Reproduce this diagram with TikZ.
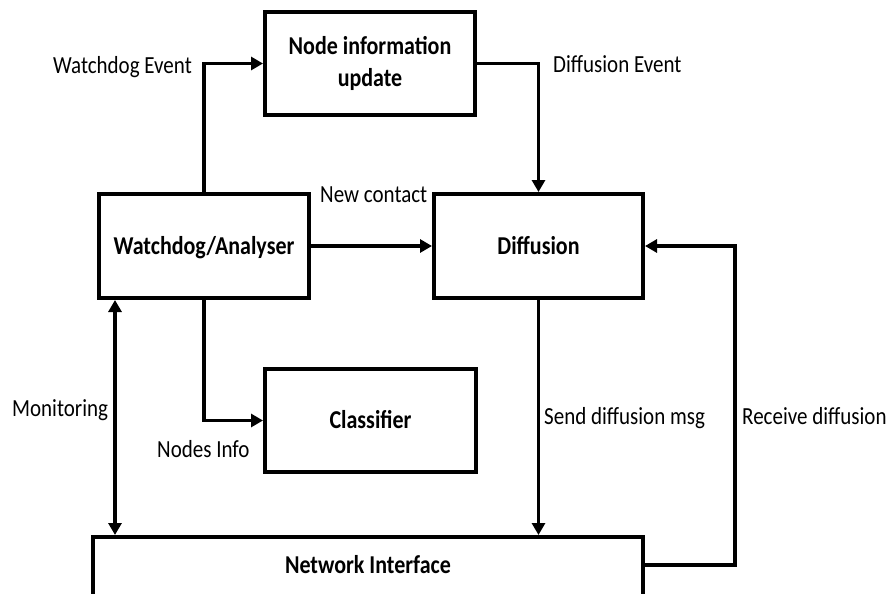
\documentclass[tikz,border=0pt]{standalone}
\usepackage{fontspec}
\usepackage{graphicx}
\setmainfont{Carlito}
\usetikzlibrary{arrows.meta,calc}
\newcommand{\tallt}[1]{\scalebox{1}[1.17]{#1}}
\tikzset{
  box/.style={draw, line width=4pt, rectangle, inner sep=0pt, font=\fontsize{22}{31.7}\selectfont\bfseries, align=center},
  oneline/.style={text height=16.6pt, text depth=0pt},
  arr/.style={line width=3.4pt, -{Triangle[length=12pt,width=13pt]}},
  darr/.style={line width=3.4pt, {Triangle[length=12pt,width=13pt]}-{Triangle[length=12pt,width=13pt]}},
  lbl/.style={inner sep=0pt, font=\fontsize{21}{25}\selectfont}
}
\begin{document}
\begin{tikzpicture}[x=1pt,y=-1pt]
\useasboundingbox (0,0) rectangle (886,594);
\node[box, minimum width=210pt, minimum height=103pt] (niu) at (370,63.5) {\tallt{Node information}\\\tallt{update}};
\node[box, oneline, minimum width=210pt, minimum height=104pt] (wd) at (204,246) {\tallt{Watchdog/Analyser}};
\node[box, oneline, minimum width=209pt, minimum height=104pt] (diff) at (538.5,246) {\tallt{Diffusion}};
\node[box, oneline, minimum width=211pt, minimum height=103pt] (cls) at (370.5,420.5) {\tallt{Classifier}};
\node[box, minimum width=550pt, minimum height=60pt, text height=12.6pt, text depth=0pt] (ni) at (368,567) {\tallt{Network Interface}};

\draw[arr] (wd.north) |- (niu.west);
\draw[arr] (niu.east) -| (diff.north);
\draw[arr] (wd.east) -- (diff.west);
\draw[arr] (wd.south) |- (cls.west);
\draw[darr] ([xshift=18pt]wd.south west) -- ([xshift=18pt]wd.south west |- ni.north);
\draw[arr] (diff.south) -- (diff.south |- ni.north);
\coordinate (rc) at ($(ni.east)+(90,-2)$);
\draw[arr] (ni.east |- rc) -- (rc) |- (diff.east);

\node[lbl, anchor=base east] (l1) at (192,74) {\tallt{Watchdog Event}};
\node[lbl, anchor=base west] (l2) at (553,73) {\tallt{Diffusion Event}};
\node[lbl, anchor=base west] (l3) at (320,202) {\tallt{New contact}};
\node[lbl, anchor=base west] (l4) at (12,416) {\tallt{Monitoring}};
\node[lbl, anchor=base west] (l5) at (157,457) {\tallt{Nodes Info}};
\node[lbl, anchor=base west] (l6) at (544,424) {\tallt{Send diffusion msg}};
\node[lbl, anchor=base west] (l7) at (742,424) {\tallt{Receive diffusion}};
\end{tikzpicture}
\end{document}
